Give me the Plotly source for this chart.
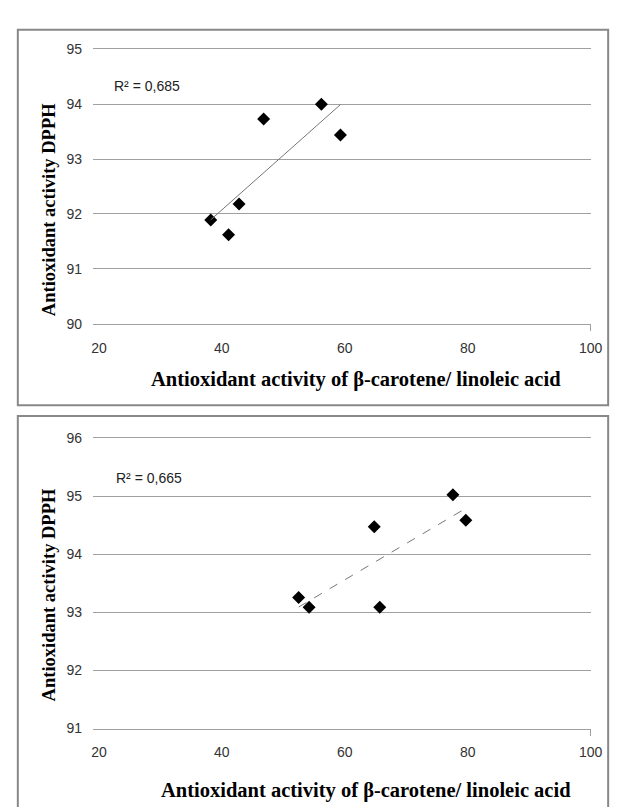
import numpy as np
import plotly.graph_objects as go

# Top chart data
top_x = [38.2, 41.1, 42.8, 46.8, 56.2, 59.3]
top_y = [91.89, 91.62, 92.18, 93.73, 94.00, 93.44]
top_r2 = "R² = 0,685"
top_yticks = [90, 91, 92, 93, 94, 95]

# Bottom chart data
bot_x = [52.5, 54.2, 64.8, 65.7, 77.6, 79.7]
bot_y = [93.26, 93.09, 94.48, 93.09, 95.03, 94.59]
bot_r2 = "R² = 0,665"
bot_yticks = [91, 92, 93, 94, 95, 96]

x_ticks = [20, 40, 60, 80, 100]
x_title = "Antioxidant activity of β-carotene/ linoleic acid"
y_title = "Antioxidant activity DPPH"

W, H = 619, 807

def px(x):
    return x / W

def py(y):
    return 1 - y / H

fig = go.Figure()

def add_chart(xs, ys, xaxis, yaxis, dash):
    fig.add_trace(go.Scatter(x=xs, y=ys, mode="markers", xaxis=xaxis, yaxis=yaxis,
                             marker=dict(symbol="diamond", size=10, color="black"),
                             showlegend=False))
    a, b = np.polyfit(xs, ys, 1)
    lx = [min(xs), max(xs)]
    ly = [a * v + b for v in lx]
    fig.add_trace(go.Scatter(x=lx, y=ly, mode="lines", xaxis=xaxis, yaxis=yaxis,
                             line=dict(color="#777777", width=1, dash=dash),
                             showlegend=False))

add_chart(top_x, top_y, "x", "y", "solid")
add_chart(bot_x, bot_y, "x2", "y2", "dash")

tickfont = dict(family="Liberation Sans", size=14, color="#333333")
xdom = [px(85), px(594)]
gridc = "#a0a0a0"

common_x = dict(range=[19.05, 100], tickvals=x_ticks, showgrid=False, zeroline=False,
                showline=True, mirror=True, linecolor=gridc, linewidth=1,
                ticks="", tickfont=tickfont, ticklabelstandoff=11, domain=xdom,
                minor=dict(tickvals=[100], ticks="outside", ticklen=6,
                           tickcolor=gridc, tickwidth=1, showgrid=False))
common_y = dict(showgrid=True, gridcolor=gridc, gridwidth=1, zeroline=False,
                showline=False, ticks="", tickfont=tickfont, ticklabelstandoff=10)

fig.update_layout(
    width=W, height=H, margin=dict(l=0, r=0, t=0, b=0),
    paper_bgcolor="white", plot_bgcolor="white",
    xaxis=dict(**common_x, anchor="y"),
    yaxis=dict(**common_y, range=[90, 95], tickvals=top_yticks, anchor="x",
               domain=[py(314), py(34)]),
    xaxis2=dict(**common_x, anchor="y2"),
    yaxis2=dict(**common_y, range=[91, 96], tickvals=bot_yticks, anchor="x2",
                domain=[py(727), py(431)]),
)

xtitlefont = dict(family="Liberation Serif", size=20.5, color="black")
ytitlefont = dict(family="Liberation Serif", size=18.5, color="black")
r2font = dict(family="Liberation Sans", size=14, color="#222222")
annots = [
    dict(text="<b>" + y_title + "</b>", x=px(40), y=py(198), textangle=-90, font=ytitlefont, xanchor="center"),
    dict(text="<b>" + x_title + "</b>", x=px(354), y=py(371), font=xtitlefont, xanchor="center"),
    dict(text="<b>" + y_title + "</b>", x=px(40), y=py(591), textangle=-90, font=ytitlefont, xanchor="center"),
    dict(text="<b>" + x_title + "</b>", x=px(364), y=py(790), font=xtitlefont, xanchor="center"),
    dict(text=top_r2, x=px(104), y=py(71), font=r2font, xanchor="left"),
    dict(text=bot_r2, x=px(106), y=py(471), font=r2font, xanchor="left"),
]
for a in annots:
    fig.add_annotation(xref="paper", yref="paper", showarrow=False,
                       yanchor="middle", **a)

# Chart borders
fig.add_shape(type="rect", xref="paper", yref="paper",
              x0=px(8), x1=px(612), y0=py(397), y1=py(14),
              line=dict(color="#888888", width=2))
fig.add_shape(type="rect", xref="paper", yref="paper",
              x0=px(8), x1=px(612), y0=py(820), y1=py(408),
              line=dict(color="#888888", width=2))

fig.write_html("out.html")
